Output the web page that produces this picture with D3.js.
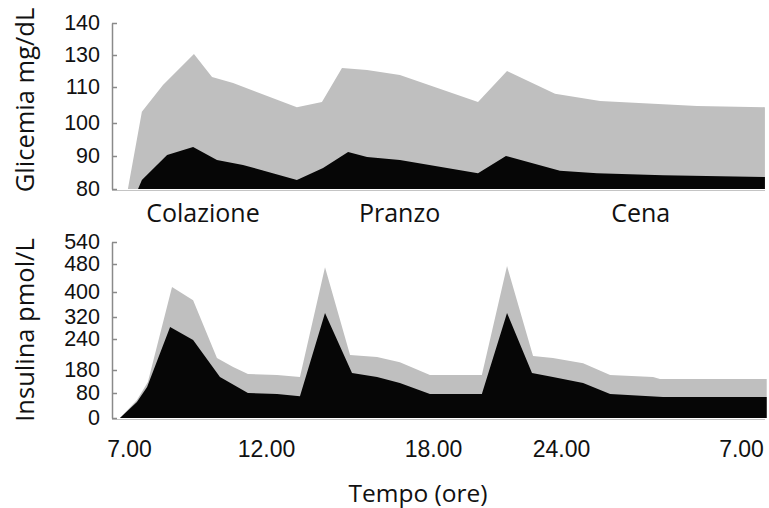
<!DOCTYPE html>
<html>
<head>
<meta charset="utf-8">
<script src="https://cdn.jsdelivr.net/npm/d3@7"></script>
<style>
	body { margin: 0; background: #fff; }
	svg { display: block; font-family: 'Open Sans', sans-serif; }
	.axis path, .axis line { stroke: #8a8a8a; stroke-width: 1.5; }
	.axis text { fill: #111; }
</style>
</head>
<body>
<div id="chart"></div>
<script>
// x axis (hours of the day, 7.00 -> 7.00 next morning)
const hourTicks = [7, 12, 18, 24, 31];
const hourLabels = ['7.00', '12.00', '18.00', '24.00', '7.00'];
const meals = ['Colazione', 'Pranzo', 'Cena'];
const mealHours = [9.7, 16.8, 27.1];

// glycemia (mg/dL), axis ticks as printed
const glucoseTicks = [80, 90, 100, 110, 130, 140];
// [hour, value] upper band (grey) and lower band (black)
const glucoseUpper = [
	[6.96, 80], [7.47, 103.1], [8.24, 111.3], [9.37, 130.3], [10.03, 116.3], [10.8, 112.5],
	[13.11, 104.4], [14.01, 105.8], [14.73, 121.9], [15.63, 120.6], [16.81, 117.5],
	[20.11, 105.8], [21.47, 120], [23.72, 108.1], [25.52, 106.1], [29.29, 104.7], [31.93, 104.4]
];
const glucoseLower = [
	[7.33, 80], [7.47, 82.7], [8.39, 90.3], [9.34, 92.7], [10.21, 88.8], [11.16, 87.3],
	[13.11, 82.7], [14.05, 86.4], [14.95, 91.2], [15.63, 89.7], [16.81, 88.8],
	[20.11, 84.8], [21.42, 90], [23.95, 85.5], [25.4, 84.8], [27.97, 84.2], [31.93, 83.6]
];

// insulin (pmol/L), axis ticks as printed
const insulinTicks = [0, 80, 180, 240, 320, 400, 480, 540];
const insulinUpper = [
	[6.67, 0], [7.29, 58], [7.69, 128], [8.57, 414], [9.34, 374], [10.21, 203], [10.8, 186],
	[11.34, 163], [12.4, 158], [13.22, 150], [14.12, 471], [15.02, 209], [15.99, 205],
	[16.81, 195], [17.89, 158], [20.29, 158], [21.47, 474], [22.69, 207], [23.62, 203],
	[24.86, 193], [25.91, 158], [27.58, 150], [27.85, 141], [32, 141]
];
const insulinLower = [
	[6.67, 0], [7.29, 51], [7.66, 106], [8.5, 284], [9.34, 238], [10.32, 150], [11.34, 80],
	[12.4, 77], [13.22, 70], [14.12, 333], [15.09, 167], [15.99, 150], [16.81, 124],
	[17.89, 77], [20.29, 77], [21.47, 333], [22.64, 167], [23.62, 150], [24.86, 124],
	[25.91, 77], [27.97, 67], [32, 67]
];

const width = 769;
const height = 508;
const axisX = 112;
const rightEdge = 765;

const svg = d3.select('#chart').append('svg')
	.attr('width', width)
	.attr('height', height);

// the printed axes are not evenly spaced, so use piecewise scales
const x = d3.scaleLinear()
	.domain(hourTicks)
	.range([129, 266, 433, 561, 741]);
const yGlucose = d3.scaleLinear()
	.domain(glucoseTicks)
	.range([189, 156, 123, 87, 55, 23]);
const yInsulin = d3.scaleLinear()
	.domain(insulinTicks)
	.range([418, 393, 370, 339, 317, 292, 264, 242]);

const drawPanel = (yScale, ticks, upper, lower, title, titleY) => {
	const base = yScale(ticks[0]);
	const area = d3.area()
		.x(d => x(d[0]))
		.y0(base)
		.y1(d => yScale(d[1]));

	svg.append('path')
		.datum(upper)
		.attr('d', area)
		.style('fill', '#bfbfbf');
	svg.append('path')
		.datum(lower)
		.attr('d', area)
		.style('fill', '#060606');

	// baseline
	svg.append('line')
		.attr('x1', axisX)
		.attr('x2', rightEdge)
		.attr('y1', base + 1.5)
		.attr('y2', base + 1.5)
		.style('stroke', '#c4c4c4')
		.style('stroke-width', 1.2);

	const yAxis = d3.axisLeft(yScale)
		.tickValues(ticks)
		.tickFormat(d => d)
		.tickSizeInner(-5)
		.tickSizeOuter(0)
		.tickPadding(12);
	svg.append('g')
		.attr('class', 'y axis')
		.attr('transform', `translate(${axisX}, 0)`)
		.call(yAxis)
		.call(g => g.selectAll('text').style('font-size', '21.5px'));

	svg.append('text')
		.attr('transform', `translate(34, ${titleY}) rotate(-90)`)
		.style('text-anchor', 'middle')
		.style('font-size', '25.5px')
		.style('fill', '#111')
		.text(title);
};

drawPanel(yGlucose, glucoseTicks, glucoseUpper, glucoseLower, 'Glicemia mg/dL', 100);
drawPanel(yInsulin, insulinTicks, insulinUpper, insulinLower, 'Insulina pmol/L', 330);

// meal labels between the panels
svg.selectAll('.meal')
	.data(meals)
	.enter().append('text')
		.attr('class', 'meal')
		.attr('x', (d, i) => x(mealHours[i]))
		.attr('y', 222)
		.style('text-anchor', 'middle')
		.style('font-size', '25px')
		.style('fill', '#111')
		.text(d => d);

// time axis
const xAxis = d3.axisBottom(x)
	.tickValues(hourTicks)
	.tickFormat((d, i) => hourLabels[i])
	.tickSize(0)
	.tickPadding(21);
svg.append('g')
	.attr('class', 'x axis')
	.attr('transform', 'translate(0, 420)')
	.call(xAxis)
	.call(g => g.select('.domain').remove())
	.call(g => g.selectAll('text').style('font-size', '23px'));

svg.append('text')
	.attr('x', 418)
	.attr('y', 502)
	.style('text-anchor', 'middle')
	.style('font-size', '24.5px')
	.style('fill', '#111')
	.text('Tempo (ore)');
</script>
</body>
</html>
